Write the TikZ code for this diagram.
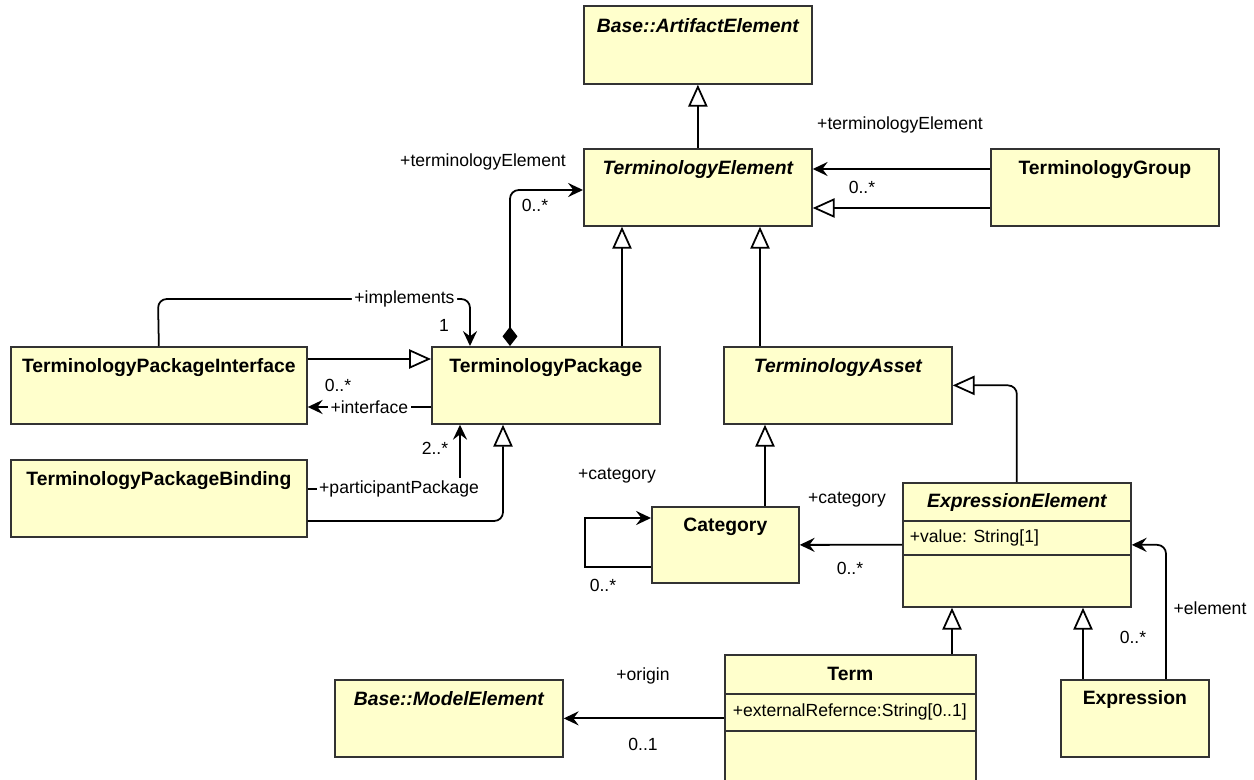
\documentclass[tikz,border=0pt]{standalone}
\usepackage{fontspec}
\setmainfont{Liberation Sans}
\usetikzlibrary{positioning, arrows.meta}
\definecolor{classfill}{HTML}{FFFFCC}
\definecolor{classline}{HTML}{333333}

\begin{document}
\begin{tikzpicture}[x=0.02cm, y=-0.02cm, line width=1pt,
    font=\fontsize{10}{12}\selectfont,
    cls/.style={draw=classline, fill=classfill, anchor=north west, inner sep=0pt, line width=1pt},
    ttl/.style={anchor=base, inner sep=0pt, font=\fontsize{11}{13}\selectfont\bfseries},
    attr/.style={anchor=base west, inner sep=0pt},
    gen/.style={-{Triangle[open, length=12.5pt, width=11pt]}},
    assoc/.style={-{Stealth[length=8.5pt, width=8pt, inset=3pt]}},
    comp/.style={{Diamond[length=11pt, width=8.5pt]}-{Stealth[length=8.5pt, width=8pt, inset=3pt]}},
    role/.style={inner sep=1pt},
    inl/.style={inner sep=1.5pt, fill=white}]
\useasboundingbox (0,0) rectangle (1254,780);

% classes
\node[cls, minimum width=4.56cm, minimum height=1.56cm] (art) at (583,5) {};
\node[cls, minimum width=4.56cm, minimum height=1.54cm] (te) at (583,148) {};
\node[cls, minimum width=4.56cm, minimum height=1.54cm] (grp) at (990,148) {};
\node[cls, minimum width=5.92cm, minimum height=1.54cm] (pif) at (10,346) {};
\node[cls, minimum width=4.56cm, minimum height=1.54cm] (pkg) at (431,346) {};
\node[cls, minimum width=4.56cm, minimum height=1.54cm] (ast) at (723,346) {};
\node[cls, minimum width=5.92cm, minimum height=1.54cm] (bnd) at (10,459) {};
\node[cls, minimum width=2.94cm, minimum height=1.52cm] (cat) at (651,506) {};
\node[cls, minimum width=4.56cm, minimum height=2.48cm] (expel) at (902,482) {};
\node[cls, minimum width=5.02cm, minimum height=2.56cm] (term) at (724,654) {};
\node[cls, minimum width=2.96cm, minimum height=1.54cm] (expr) at (1060,679) {};
\node[cls, minimum width=4.56cm, minimum height=1.54cm] (mdl) at (334,679) {};

% titles
\node[ttl] (art-t) at ([yshift=-0.56cm]art.north) {\itshape Base::ArtifactElement};
\node[ttl] (te-t) at ([yshift=-0.54cm]te.north) {\itshape TerminologyElement};
\node[ttl] (grp-t) at ([yshift=-0.54cm]grp.north) {TerminologyGroup};
\node[ttl] (pif-t) at ([yshift=-0.54cm]pif.north) {TerminologyPackageInterface};
\node[ttl] (pkg-t) at ([yshift=-0.54cm]pkg.north) {TerminologyPackage};
\node[ttl] (ast-t) at ([yshift=-0.54cm]ast.north) {\itshape TerminologyAsset};
\node[ttl] (bnd-t) at ([yshift=-0.54cm]bnd.north) {TerminologyPackageBinding};
\node[ttl] (cat-t) at ([yshift=-0.52cm]cat.north) {Category};
\node[ttl] (expel-t) at ([yshift=-0.52cm]expel.north) {\itshape ExpressionElement};
\node[ttl] (term-t) at ([yshift=-0.54cm]term.north) {Term};
\node[ttl] (expr-t) at ([yshift=-0.52cm]expr.north) {Expression};
\node[ttl] (mdl-t) at ([yshift=-0.54cm]mdl.north) {\itshape Base::ModelElement};

% compartments
\draw[classline] ([yshift=-0.78cm]expel.north west) -- ([yshift=-0.78cm]expel.north east);
\draw[classline] ([yshift=-1.46cm]expel.north west) -- ([yshift=-1.46cm]expel.north east);
\node[attr] (expel-a) at ([xshift=0.14cm, yshift=-1.22cm]expel.north west) {+value: String[1]};
\draw[classline] ([yshift=-0.8cm]term.north west) -- ([yshift=-0.8cm]term.north east);
\draw[classline] ([yshift=-1.54cm]term.north west) -- ([yshift=-1.54cm]term.north east);
\node[attr] (term-a) at ([xshift=0.16cm, yshift=-1.26cm]term.north west) {+externalRefernce:String[0..1]};

% generalizations
\draw[gen] (te) -- (art);
\draw[gen] (grp.west |- 0,208) -- (te.east |- 0,208);
\draw[gen] (pkg.north -| 622,0) -- (te.south -| 622,0);
\draw[gen] (ast.north -| 760,0) -- (te.south -| 760,0);
\draw[gen] (pif.east |- 0,359) -- (pkg.west |- 0,359);
\draw[gen, rounded corners=5pt] (bnd.east |- 0,521) -| (pkg.south -| 503,0);
\draw[gen] (cat.north -| 765,0) -- (ast.south -| 765,0);
\draw[gen, rounded corners=5pt] (expel.north) |- (ast.east);
\draw[gen] (term.north -| 952,0) -- (expel.south -| 952,0);
\draw[gen] (expr.north -| 1083,0) -- (expel.south -| 1083,0);

% associations
\draw[assoc] (grp.west |- 0,169) -- (te.east |- 0,169);
\node[role] (grp-r) at (900,125) {+terminologyElement};
\node[role] (grp-m) at (862,187) {0..*};

\draw[comp, rounded corners=5pt] (pkg.north -| 510,0) |- (te.west |- 0,190);
\node[role] (pkg-r) at (483,162) {+terminologyElement};
\node[role] (pkg-m) at (535,205) {0..*};

\draw[assoc] (pkg.west |- 0,407) -- node[inl] (pkg-i) {+interface} (pif.east |- 0,407);
\node[role] (pif-m) at (338,385) {0..*};

\draw[assoc, rounded corners=5pt] (pif.north) -- (158,299) -- node[inl, pos=0.79] (pif-i) {+implements} (470,299) -- (pkg.north -| 470,0);
\node[role] (pif-n) at (444,325) {1};

\draw[assoc] (bnd.east |- 0,489) -- node[inl, pos=0.6] (bnd-p) {+participantPackage} (460,489) -- (pkg.south -| 460,0);
\node[role] (bnd-m) at (435,448) {2..*};

\draw[assoc] (cat.west |- 0,567) -| (585,518) -- (cat.west |- 0,518);
\node[role] (cat-r) at (617,476) {+category};
\node[role] (cat-m) at (603,585) {0..*};

\draw[assoc] (expel.west) -- (cat.east);
\node[role] (expel-r) at (847,500) {+category};
\node[role] (expel-m) at (850,568) {0..*};

\draw[assoc, rounded corners=5pt] (expr.north -| 1166,0) |- (expel.east);
\node[role] (expr-r) at (1210,608) {+element};
\node[role] (expr-m) at (1133,637) {0..*};

\draw[assoc] (term.west |- mdl.east) -- (mdl.east);
\node[role] (term-r) at (643,676) {+origin};
\node[role] (term-m) at (643,744) {0..1};
\end{tikzpicture}
\end{document}
